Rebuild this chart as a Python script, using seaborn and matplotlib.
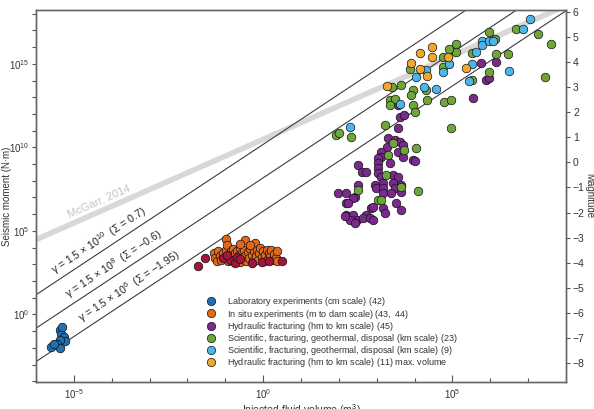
import numpy as np
import pandas as pd
import matplotlib
matplotlib.use('Agg')
import matplotlib.pyplot as plt
import seaborn as sns
from matplotlib.lines import Line2D
from matplotlib.ticker import FixedLocator, NullFormatter, LogFormatterMathtext

# data: log10(injected volume, m^3) and moment magnitude
lab_logv = [-5.37, -5.34, -5.26, -5.24, -5.37, -5.45, -5.61, -5.37, -5.53, -5.32]
lab_mw = [-6.68, -6.84, -6.96, -7.12, -7.08, -7.24, -7.36, -7.40, -7.24, -6.56]

insitu_logv = [-1.30, -1.28, -1.22, -1.18, -1.15, -1.10, -1.05, -1.02, -0.98, -0.97,
               -0.96, -0.93, -0.90, -0.88, -0.85, -0.82, -0.80, -0.77, -0.74, -0.70,
               -0.68, -0.65, -0.62, -0.60, -0.57, -0.55, -0.50, -0.48, -0.47, -0.44,
               -0.40, -0.37, -0.34, -0.30, -0.28, -0.25, -0.22, -0.20, -0.17, -0.14,
               -0.10, -0.07, -0.04, 0.00, 0.03, 0.06, 0.09, 0.12, 0.15, 0.18,
               0.22, 0.25, 0.28, 0.33, 0.36, 0.37, -0.60, -0.35]
insitu_mw = [-3.62, -3.80, -3.95, -3.55, -3.72, -3.88, -3.60, -3.78, -3.50, -3.05,
             -3.30, -3.95, -3.68, -3.85, -3.55, -3.75, -3.45, -3.92, -3.62, -3.80,
             -3.52, -3.70, -3.98, -3.40, -3.60, -3.85, -3.50, -3.08, -3.72, -3.92,
             -3.58, -3.80, -3.45, -3.68, -3.95, -3.55, -3.20, -3.75, -3.50, -3.88,
             -3.62, -3.40, -3.78, -3.55, -3.95, -3.68, -3.48, -3.85, -3.60, -3.75,
             -3.50, -3.90, -3.65, -3.80, -3.55, -3.95, -3.25, -3.30]

insitu2_logv = [-1.71, -1.53, -1.05, -0.87, -0.74, -0.68, -0.03, 0.50, -0.95, -0.60, -0.30, 0.15]
insitu2_mw = [-4.12, -3.82, -3.81, -3.89, -4.01, -3.77, -3.97, -3.92, -3.70, -3.85, -4.00, -3.95]

hf_logv = [3.61, 3.56, 3.71, 3.30, 3.47, 3.61, 3.69, 3.26, 3.56, 3.12,
           3.69, 3.12, 3.03, 3.03, 3.34, 3.96, 2.50, 3.03, 2.60, 2.73,
           3.03, 3.12, 3.43, 3.56, 2.95, 3.17, 3.43, 3.65, 2.50, 2.99,
           3.17, 3.47, 1.97, 2.20, 2.42, 3.17, 3.39, 3.65, 2.37, 2.20,
           3.52, 3.17, 2.86, 3.65, 2.20, 2.37, 2.73, 3.21, 2.47, 2.29,
           2.63, 2.82, 2.89, 2.42, 4.00, 5.76, 6.16, 5.89, 5.97, 5.55,
           2.16, 2.24, 2.89, 3.56]
hf_mw = [1.82, 1.36, 1.89, 0.96, 0.89, 0.83, 0.69, 0.63, 0.43, 0.43,
         0.23, 0.23, 0.16, -0.04, -0.04, 0.10, -0.10, -0.23, -0.37, -0.37,
         -0.43, -0.57, -0.50, -0.57, -0.90, -0.83, -0.83, -0.90, -0.90, -1.03,
         -1.03, -1.03, -1.21, -1.21, -1.37, -1.23, -1.23, -1.17, -1.43, -1.63,
         -1.63, -1.83, -1.83, -1.90, -2.10, -2.10, -2.10, -2.03, -2.30, -2.30,
         -2.23, -2.23, -2.30, -2.43, 0.06, 3.95, 3.99, 3.29, 3.36, 2.56,
         -2.14, -1.62, -1.78, 2.29]

sci23_logv = [1.92, 2.01, 2.31, 3.21, 3.41, 3.63, 3.34, 3.47, 3.34, 3.89,
              3.96, 3.91, 3.96, 4.00, 4.33, 4.29, 4.79, 4.97, 4.97, 5.10,
              5.10, 4.90, 4.76, 5.52, 5.53, 5.97, 5.97, 6.13, 6.15, 6.48,
              6.68, 7.27, 7.60, 7.45, 3.43, 3.71, 3.30, 4.03, 3.24, 3.65,
              4.09, 2.51, 3.03, 3.11, 4.74]
sci23_mw = [1.09, 1.19, 1.00, 1.49, 3.00, 3.09, 2.49, 2.52, 2.29, 3.71,
            2.89, 2.69, 2.29, 2.00, 2.49, 2.89, 2.40, 2.49, 1.39, 4.71,
            4.42, 4.51, 3.82, 3.29, 4.35, 5.19, 3.62, 4.91, 4.32, 4.32,
            5.31, 5.11, 4.71, 3.40, 0.76, 0.50, 0.30, 0.59, -0.50, -0.99,
            -1.13, -1.10, -1.50, -1.50, 4.22]

sci9_logv = [2.29, 3.61, 4.05, 4.29, 4.24, 4.57, 4.76, 4.90, 5.51, 5.61,
             5.45, 5.78, 5.78, 5.97, 6.08, 6.49, 6.87, 7.05]
sci9_mw = [1.40, 2.32, 3.41, 3.69, 3.00, 2.91, 3.62, 3.93, 3.91, 4.40,
           3.26, 4.86, 4.70, 4.84, 4.84, 3.65, 5.31, 5.71]

hf11_logv = [3.28, 3.91, 4.14, 4.34, 4.15, 4.47, 4.47, 4.88, 5.37]
hf11_mw = [3.04, 3.95, 3.73, 3.46, 4.35, 4.19, 4.59, 4.22, 3.75]

legend_labels = [
    'Laboratory experiments (cm scale) ($\\mathit{42}$)',
    'In situ experiments (m to dam scale) ($\\mathit{43,\\ 44}$)',
    'Hydraulic fracturing (hm to km scale) ($\\mathit{45}$)',
    'Scientific, fracturing, geothermal, disposal (km scale) ($\\mathit{23}$)',
    'Scientific, fracturing, geothermal, disposal (km scale) ($\\mathit{9}$)',
    'Hydraulic fracturing (hm to km scale) ($\\mathit{11}$) max. volume',
]
colors = ['#2070b4', '#e2691c', '#7a2a8c', '#6fa63a', '#4cb5ea', '#f2a82c']
insitu2_color = '#a3143c'

gammas = [1.5e10, 1.5e8, 1.5e6]
gamma_text = ['γ = 1.5 × 10$^{10}$  (Σ = 0.7)',
              'γ = 1.5 × 10$^{8}$  (Σ = −0.6)',
              'γ = 1.5 × 10$^{6}$  (Σ = −1.95)']
gamma_text_x = [10**-5.45, 10**-5.08, 10**-4.72]
shear_modulus = 3e10

mw_min, mw_max = -8.75, 6.08

sns.set_style('ticks')
plt.rcParams['font.family'] = ['Liberation Sans', 'DejaVu Sans']
plt.rcParams['mathtext.fontset'] = 'custom'
plt.rcParams['mathtext.rm'] = 'Liberation Sans'
plt.rcParams['mathtext.it'] = 'Liberation Sans:italic'
plt.rcParams['mathtext.bf'] = 'Liberation Sans:bold'


def m0(mw):
    return 10 ** (1.5 * mw + 9.1)


fig = plt.figure(figsize=(5.94, 4.09), dpi=100)
ax = fig.add_axes([36 / 594, 1 - 381.7 / 409, 530 / 594, 371.7 / 409])
ax.set_xscale('log')
ax.set_yscale('log')
ax.set_xlim(1e-6, 1e8)
ax.set_ylim(m0(mw_min), m0(mw_max))

v = np.logspace(-6, 8, 60)
ax.plot(v, shear_modulus * v, color='#d8d8d8', lw=4, zorder=1, solid_capstyle='butt')
for g in gammas:
    ax.plot(v, g * v ** 1.5, color='#3c3c3c', lw=0.8, zorder=2)


def screen_angle(f, x0):
    p1 = ax.transData.transform((x0, f(x0)))
    p2 = ax.transData.transform((x0 * 10, f(x0 * 10)))
    return np.degrees(np.arctan2(p2[1] - p1[1], p2[0] - p1[0]))


for g, txt, x0 in zip(gammas, gamma_text, gamma_text_x):
    f = lambda x, g=g: g * x ** 1.5
    ax.text(x0, f(x0) * 10 ** 0.2, txt, rotation=screen_angle(f, x0),
            rotation_mode='anchor', ha='left', va='bottom', fontsize=7.6, color='#222222')

mg = lambda x: shear_modulus * x
ax.text(10 ** -5.1, mg(10 ** -5.1) * 10 ** 0.3, 'McGarr, 2014', rotation=screen_angle(mg, 10 ** -5.1),
        rotation_mode='anchor', ha='left', va='bottom', fontsize=8, color='#c4c4c4')

ax.yaxis.set_major_locator(FixedLocator([1e0, 1e5, 1e10, 1e15]))
ax.yaxis.set_minor_locator(FixedLocator([10.0 ** k for k in range(-4, 19)]))
ax.yaxis.set_major_formatter(LogFormatterMathtext())
ax.yaxis.set_minor_formatter(NullFormatter())
ax.xaxis.set_major_locator(FixedLocator([1e-5, 1e0, 1e5]))
ax.xaxis.set_minor_locator(FixedLocator([10.0 ** k for k in range(-6, 9)]))
ax.xaxis.set_major_formatter(LogFormatterMathtext())
ax.xaxis.set_minor_formatter(NullFormatter())

ax.tick_params(axis='x', which='major', direction='in', length=5, width=0.8,
               labelsize=7, colors='#555555', labelcolor='#333333', pad=4)
ax.tick_params(axis='x', which='minor', direction='in', length=3, width=0.8, colors='#555555')
ax.tick_params(axis='y', which='both', direction='out', length=3, width=0.8,
               labelsize=7, colors='#555555', labelcolor='#333333', pad=2)

ax.set_xlabel('Injected fluid volume (m$^3$)', fontsize=7.5, color='#333333', labelpad=1)
ax.set_ylabel('Seismic moment (N·m)', fontsize=7, color='#333333')
ax.yaxis.set_label_coords(-0.046, 0.5)

ax2 = ax.twinx()
ax2.set_ylim(mw_min, mw_max)
ax2.set_yticks(range(-8, 7))
ax2.tick_params(axis='y', direction='out', length=3, width=0.8, labelsize=7.5,
                colors='#555555', labelcolor='#333333', pad=2)
ax2.set_ylabel('Magnitude', rotation=270, va='center', ha='center', fontsize=7, color='#333333')
ax2.yaxis.set_label_coords(1.0434, 0.5)

for a in (ax, ax2):
    for sp in a.spines.values():
        sp.set_color('#666666')
        sp.set_linewidth(1.0)

series = [(lab_logv, lab_mw, colors[0]), (insitu_logv, insitu_mw, colors[1]),
          (insitu2_logv, insitu2_mw, insitu2_color), (hf_logv, hf_mw, colors[2]),
          (sci23_logv, sci23_mw, colors[3]), (sci9_logv, sci9_mw, colors[4]),
          (hf11_logv, hf11_mw, colors[5])]
for lv, mw, c in series:
    df = pd.DataFrame({'volume': 10.0 ** np.array(lv), 'mw': mw})
    sns.scatterplot(data=df, x='volume', y='mw', ax=ax2, color=c, s=38,
                    edgecolor='#111111', linewidth=0.5, legend=False, zorder=3)
ax2.set_xlabel('')

handles = [Line2D([], [], marker='o', ls='', markersize=6, markerfacecolor=c,
                  markeredgecolor='#111111', markeredgewidth=0.5) for c in colors]
leg = ax2.legend(handles, legend_labels, loc='upper left', bbox_to_anchor=(0.322, 0.232),
                 frameon=False, fontsize=6.5, handlelength=1.0, handletextpad=1.3,
                 labelspacing=-0.1, borderpad=0, borderaxespad=0)
for t in leg.get_texts():
    t.set_color('#333333')

fig.savefig('out.png', dpi=100)
